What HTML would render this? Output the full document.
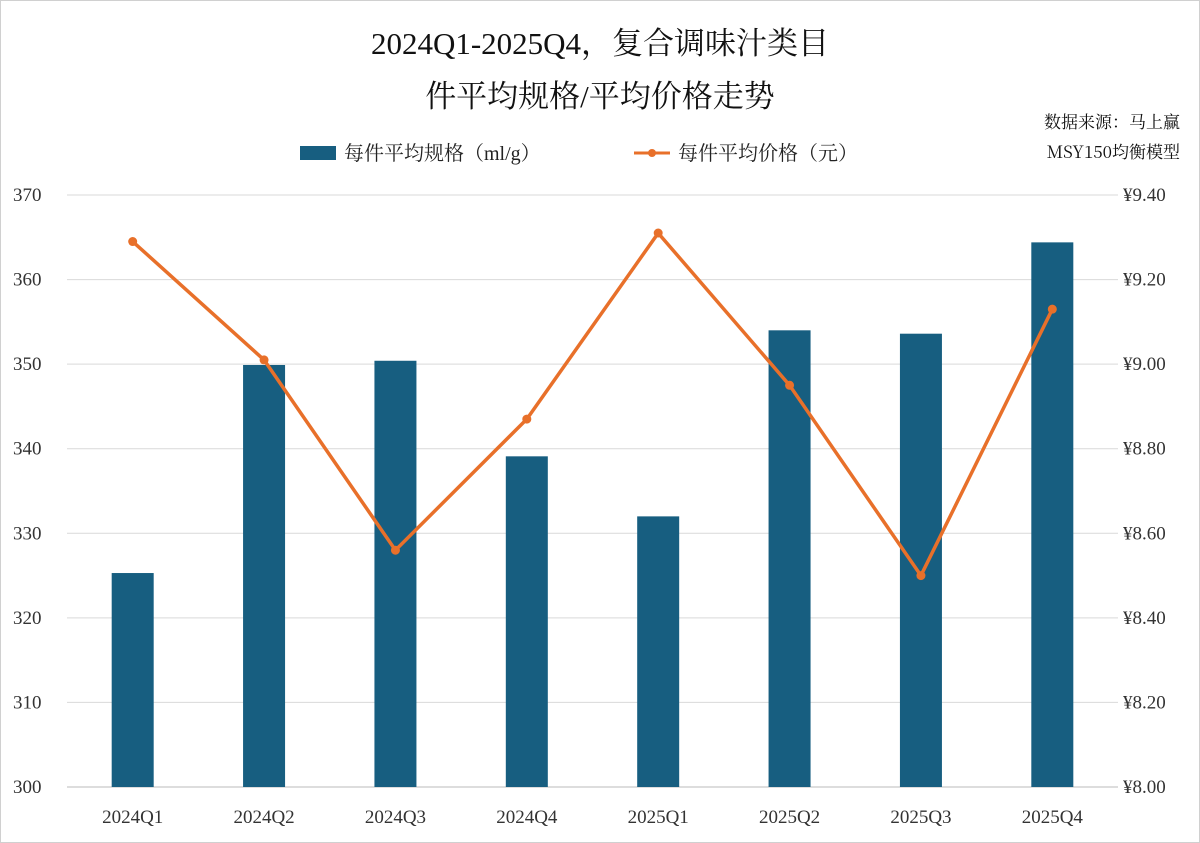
<!DOCTYPE html>
<html><head><meta charset="utf-8"><style>
body{margin:0;background:#fff;}
svg{display:block;}
text{font-family:"Liberation Serif","Noto Serif CJK SC",serif;}
</style></head><body>
<svg id="chart" width="1200" height="843" xmlns="http://www.w3.org/2000/svg">
<rect x="0.5" y="0.5" width="1199" height="842" fill="#fff" stroke="#d0d0d0"/>
<text x="600" y="54" font-size="31" text-anchor="middle" fill="#111">2024Q1-2025Q4，复合调味汁类目</text>
<text x="600" y="107" font-size="31" text-anchor="middle" fill="#111">件平均规格/平均价格走势</text>
<text x="1180" y="128" font-size="17" text-anchor="end" fill="#111" style="font-family:'Noto Serif CJK SC',serif">数据来源：马上赢</text>
<text x="1180" y="158" font-size="17" text-anchor="end" fill="#111" style="font-family:'Noto Serif CJK SC',serif">MSY150均衡模型</text>
<g>
<rect x="300" y="146" width="36" height="14" fill="#175e80"/>
<text x="344" y="160" font-size="20" fill="#222">每件平均规格（ml/g）</text>
<line x1="634" y1="153" x2="670" y2="153" stroke="#e8702a" stroke-width="3"/>
<circle cx="652" cy="153" r="4" fill="#e8702a"/>
<text x="678" y="160" font-size="20" fill="#222">每件平均价格（元）</text>
</g>
<g id="grid"></g><g id="bars"></g><g id="line"></g><g id="axes"></g>
</svg>
<script>
const categories=["2024Q1","2024Q2","2024Q3","2024Q4","2025Q1","2025Q2","2025Q3","2025Q4"];
const sizeValues=[325.3,349.9,350.4,339.1,332.0,354.0,353.6,364.4];
const priceValues=[9.29,9.01,8.56,8.87,9.31,8.95,8.50,9.13];
const leftTicks=[300,310,320,330,340,350,360,370];
const rightTicks=[8.0,8.2,8.4,8.6,8.8,9.0,9.2,9.4];
const NS="http://www.w3.org/2000/svg";
const L=67,R=1118,T=195,B=787;
const yL=v=>B-(v-300)/70*(B-T);
const yR=v=>B-(v-8)/1.4*(B-T);
const bw=(R-L)/categories.length;
const xC=i=>L+bw*(i+0.5);
function mk(tag,attrs,parent,txt){const e=document.createElementNS(NS,tag);for(const k in attrs)e.setAttribute(k,attrs[k]);if(txt!==undefined)e.textContent=txt;document.getElementById(parent).appendChild(e);return e;}
leftTicks.forEach(t=>{
 const g=mk("line",{x1:L,x2:R,y1:yL(t),y2:yL(t),stroke:t===300?"#bbb":"#d9d9d9","stroke-width":1},"grid");
 
 
 const e=mk("text",{x:13,y:yL(t)+6,"font-size":19,fill:"#333"},"axes",String(t));
 
 
});
rightTicks.forEach(t=>{
 const e=mk("text",{x:1123,y:yR(t)+6,"font-size":19,fill:"#333"},"axes","¥"+t.toFixed(2));
 
 
});
categories.forEach((c,i)=>{
 const e=mk("text",{x:xC(i),y:823,"font-size":19,fill:"#333","text-anchor":"middle"},"axes",c);
 
 
 const b=mk("rect",{x:xC(i)-21,y:yL(sizeValues[i]),width:42,height:B-yL(sizeValues[i]),fill:"#175e80"},"bars");
 
 
});
const pl=mk("polyline",{points:priceValues.map((v,i)=>xC(i)+","+yR(v)).join(" "),fill:"none",stroke:"#e8702a","stroke-width":3.5},"line");


priceValues.forEach((v,i)=>{
 const p=mk("circle",{cx:xC(i),cy:yR(v),r:4.5,fill:"#e8702a"},"line");
 
 
});
</script>
</body></html>
